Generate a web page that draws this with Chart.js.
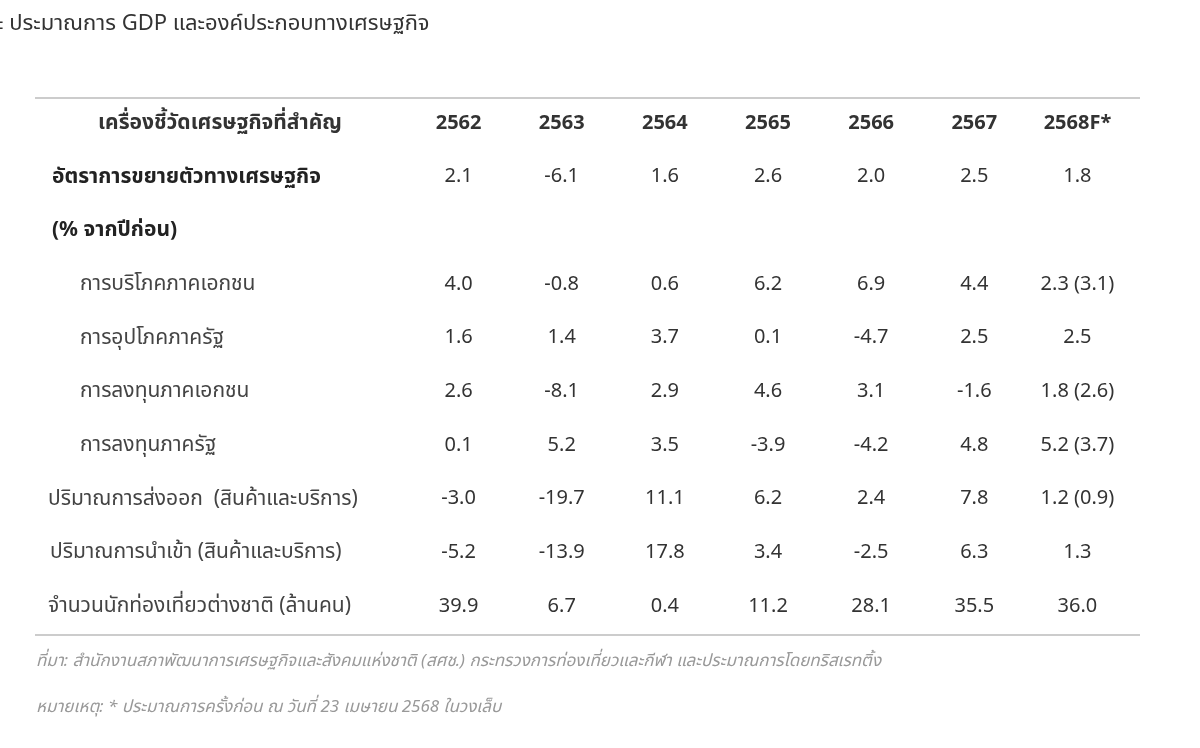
<!DOCTYPE html>
<html><head><meta charset="utf-8">
<script src="https://cdn.jsdelivr.net/npm/chart.js@4"></script>
<style>
body{margin:0;background:#fff;font-family:"Noto Sans","Noto Sans Thai",Tahoma,sans-serif;}
#wrap{position:relative;width:1200px;height:748px;}
.t{position:absolute;white-space:nowrap;}
</style></head><body>
<div id="wrap">
<canvas id="c" width="1200" height="748"></canvas>
<div class="t" style="left:-4px;top:6px;font-size:22px;color:#333">ะ ประมาณการ GDP และองค์ประกอบทางเศรษฐกิจ</div>
<div class="t" style="left:36px;top:648px;font-size:17px;color:#999;font-style:italic">ที่มา: สำนักงานสภาพัฒนาการเศรษฐกิจและสังคมแห่งชาติ (สศช.) กระทรวงการท่องเที่ยวและกีฬา และประมาณการโดยทริสเรทติ้ง</div>
<div class="t" style="left:36px;top:694px;font-size:17px;color:#999;font-style:italic">หมายเหตุ: * ประมาณการครั้งก่อน ณ วันที่ 23 เมษายน 2568 ในวงเล็บ</div>
</div>
<script>
const years = ['2562','2563','2564','2565','2566','2567','2568F*'];
const headerLabel = 'เครื่องชี้วัดเศรษฐกิจที่สำคัญ';
const rowLabels = ['อัตราการขยายตัวทางเศรษฐกิจ','(% จากปีก่อน)','การบริโภคภาคเอกชน','การอุปโภคภาครัฐ','การลงทุนภาคเอกชน','การลงทุนภาครัฐ','ปริมาณการส่งออก  (สินค้าและบริการ)','ปริมาณการนำเข้า (สินค้าและบริการ)','จำนวนนักท่องเที่ยวต่างชาติ (ล้านคน)'];
const gdp = ['2.1','-6.1','1.6','2.6','2.0','2.5','1.8'];
const sub = ['','','','','','',''];
const consumption = ['4.0','-0.8','0.6','6.2','6.9','4.4','2.3 (3.1)'];
const government = ['1.6','1.4','3.7','0.1','-4.7','2.5','2.5'];
const privInvest = ['2.6','-8.1','2.9','4.6','3.1','-1.6','1.8 (2.6)'];
const pubInvest = ['0.1','5.2','3.5','-3.9','-4.2','4.8','5.2 (3.7)'];
const exportsVol = ['-3.0','-19.7','11.1','6.2','2.4','7.8','1.2 (0.9)'];
const importsVol = ['-5.2','-13.9','17.8','3.4','-2.5','6.3','1.3'];
const tourists = ['39.9','6.7','0.4','11.2','28.1','35.5','36.0'];
const rowValues = [gdp,sub,consumption,government,privInvest,pubInvest,exportsVol,importsVol,tourists];
const rowIndent = [52,52,80,80,80,80,48,50,48];
const rowBold = [true,true,false,false,false,false,false,false,false];
const yRows = ['h'].concat(rowLabels.map((_,i)=>'r'+i));
const F = '"Noto Sans","Noto Sans Thai",Tahoma,sans-serif';
const tablePlugin = {id:'tbl',afterDraw(ch){
  const c=ch.ctx,x=ch.scales.x,y=ch.scales.y,a=ch.chartArea;
  c.save();
  c.strokeStyle='#999';c.lineWidth=1.2;
  [a.top+2,a.bottom+2].forEach(v=>{c.beginPath();c.moveTo(35,v);c.lineTo(1140,v);c.stroke();});
  c.textBaseline='middle';c.fillStyle='#333';
  const hy=y.getPixelForValue(0);
  c.font='bold 21px '+F;c.textAlign='center';
  c.fillText(headerLabel,220,hy);
  c.font='bold 20px '+F;
  years.forEach((t,i)=>c.fillText(t,x.getPixelForValue(i),hy));
  rowLabels.forEach((lab,r)=>{
    const py=y.getPixelForValue(r+1);
    c.font=(rowBold[r]?'bold ':'')+'21px '+F;c.textAlign='left';c.fillStyle=rowBold[r]?'#222':'#444';
    c.fillText(lab,rowIndent[r],py);
    c.font='20px '+F;c.textAlign='center';c.fillStyle='#333';
    rowValues[r].forEach((v,i)=>c.fillText(v,x.getPixelForValue(i),py));
  });
  c.restore();
}};
new Chart(document.getElementById('c'),{
  type:'scatter',
  data:{datasets:[{data:[]}]},
  options:{responsive:false,animation:false,
    layout:{padding:{left:407,right:71,top:96,bottom:115}},
    plugins:{legend:{display:false},tooltip:{enabled:false}},
    scales:{
      x:{type:'category',labels:years,offset:true,display:false},
      y:{type:'category',labels:yRows,offset:true,display:false}
    }},
  plugins:[tablePlugin]
});
</script></body></html>
